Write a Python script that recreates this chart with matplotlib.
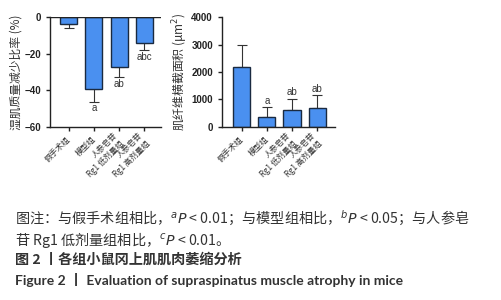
import matplotlib as mpl
mpl.use('Agg')
import matplotlib.pyplot as plt
import numpy as np

plt.rcParams['font.family'] = ['Liberation Sans', 'Noto Sans CJK SC', 'DejaVu Sans']

# data
groups = ['假手术组', '模型组', '人参皂苷\nRg1 低剂量组', '人参皂苷\nRg1 高剂量组']
wet_loss = [-3.5, -39.5, -27.0, -14.4]
wet_err = [2.3, 6.7, 6.0, 3.6]
wet_marks = ['', 'a', 'ab', 'abc']
area = [2200, 350, 620, 700]
area_err = [800, 360, 410, 450]
area_marks = ['', 'a', 'ab', 'ab']

bar_col = '#4a90f0'
x = np.arange(len(groups))

fig = plt.figure(figsize=(5.01, 3.0), dpi=100)
ax1 = fig.add_axes([0.0998, 0.577, 0.2216, 0.366])
ax2 = fig.add_axes([0.443, 0.577, 0.2255, 0.366])

cjk = ['Noto Sans CJK SC', 'DejaVu Sans']

def style(ax):
    for s in ['top', 'right']:
        ax.spines[s].set_visible(False)
    for s in ['left', 'bottom']:
        ax.spines[s].set_linewidth(1.0)
        ax.spines[s].set_color('#222222')
    ax.tick_params(direction='out', length=3, width=1, colors='#222222',
                   labelsize=7)
    ax.tick_params(axis='x', pad=5)
    for lab in ax.get_yticklabels():
        lab.set_fontweight('bold')
    ax.set_xticks(x)
    ax.set_xticklabels(groups, rotation=45, ha='right', va='center',
                       rotation_mode='anchor', fontsize=5.8,
                       family=cjk, linespacing=1.2, color='#333333',
                       multialignment='right')

# left panel
ax1.bar(x, wet_loss, width=0.68, color=bar_col, edgecolor='#1a2a40', linewidth=1.0, zorder=2)
ax1.errorbar(x, wet_loss, yerr=[wet_err, [0] * 4], fmt='none', ecolor='#333333',
             elinewidth=0.8, capsize=3.5, capthick=0.8, zorder=1)
ax1.axhline(0, color='#222222', lw=1.0, zorder=3)
ax1.set_ylim(-60, 0)
ax1.set_xlim(-0.74, 3.66)
ax1.set_yticks([0, -20, -40, -60])
ax1.set_ylabel('湿肌质量减少比率 (%)', family=cjk, fontsize=8.5, labelpad=1, color='#333333')
style(ax1)
for xi, v, e, m in zip(x, wet_loss, wet_err, wet_marks):
    if m:
        ax1.text(xi, v - e - 1, m, ha='center', va='top', fontsize=7, color='#333333')

# right panel
ax2.bar(x, area, width=0.68, color=bar_col, edgecolor='#1a2a40', linewidth=1.0, zorder=2)
ax2.errorbar(x, area, yerr=[[0] * 4, area_err], fmt='none', ecolor='#333333',
             elinewidth=0.8, capsize=3.5, capthick=0.8, zorder=1)
ax2.set_ylim(0, 4000)
ax2.set_xlim(-0.78, 3.7)
ax2.set_yticks([0, 1000, 2000, 3000, 4000])
ax2.set_ylabel('肌纤维横截面积 (μm$^2$)', family=cjk, fontsize=8.5, labelpad=1, color='#333333')
style(ax2)
for xi, v, e, m in zip(x, area, area_err, area_marks):
    if m:
        ax2.text(xi, v + e + 50, m, ha='center', va='bottom', fontsize=7, color='#333333')

# caption
cap_col = '#333333'
fig.text(0.03, 1 - 218 / 300, '图注：与假手术组相比，$^{a}$$P$ < 0.01；与模型组相比，$^{b}$$P$ < 0.05；与人参皂',
         family=cjk, fontsize=10.2, va='center', color=cap_col)
fig.text(0.03, 1 - 240 / 300, '苷 Rg1 低剂量组相比，$^{c}$$P$ < 0.01。',
         family=cjk, fontsize=10.2, va='center', color=cap_col)
fig.text(0.03, 1 - 260 / 300, '图 2 丨各组小鼠冈上肌肌肉萎缩分析',
         family=cjk, fontsize=10.2, fontweight='bold', va='center', color=cap_col)
fig.text(0.03, 1 - 280 / 300, 'Figure 2 丨 Evaluation of supraspinatus muscle atrophy in mice',
         family=['Lato', 'Noto Sans CJK SC'], fontsize=10, fontweight='bold', va='center', color=cap_col)

fig.savefig('out.png', dpi=100)
